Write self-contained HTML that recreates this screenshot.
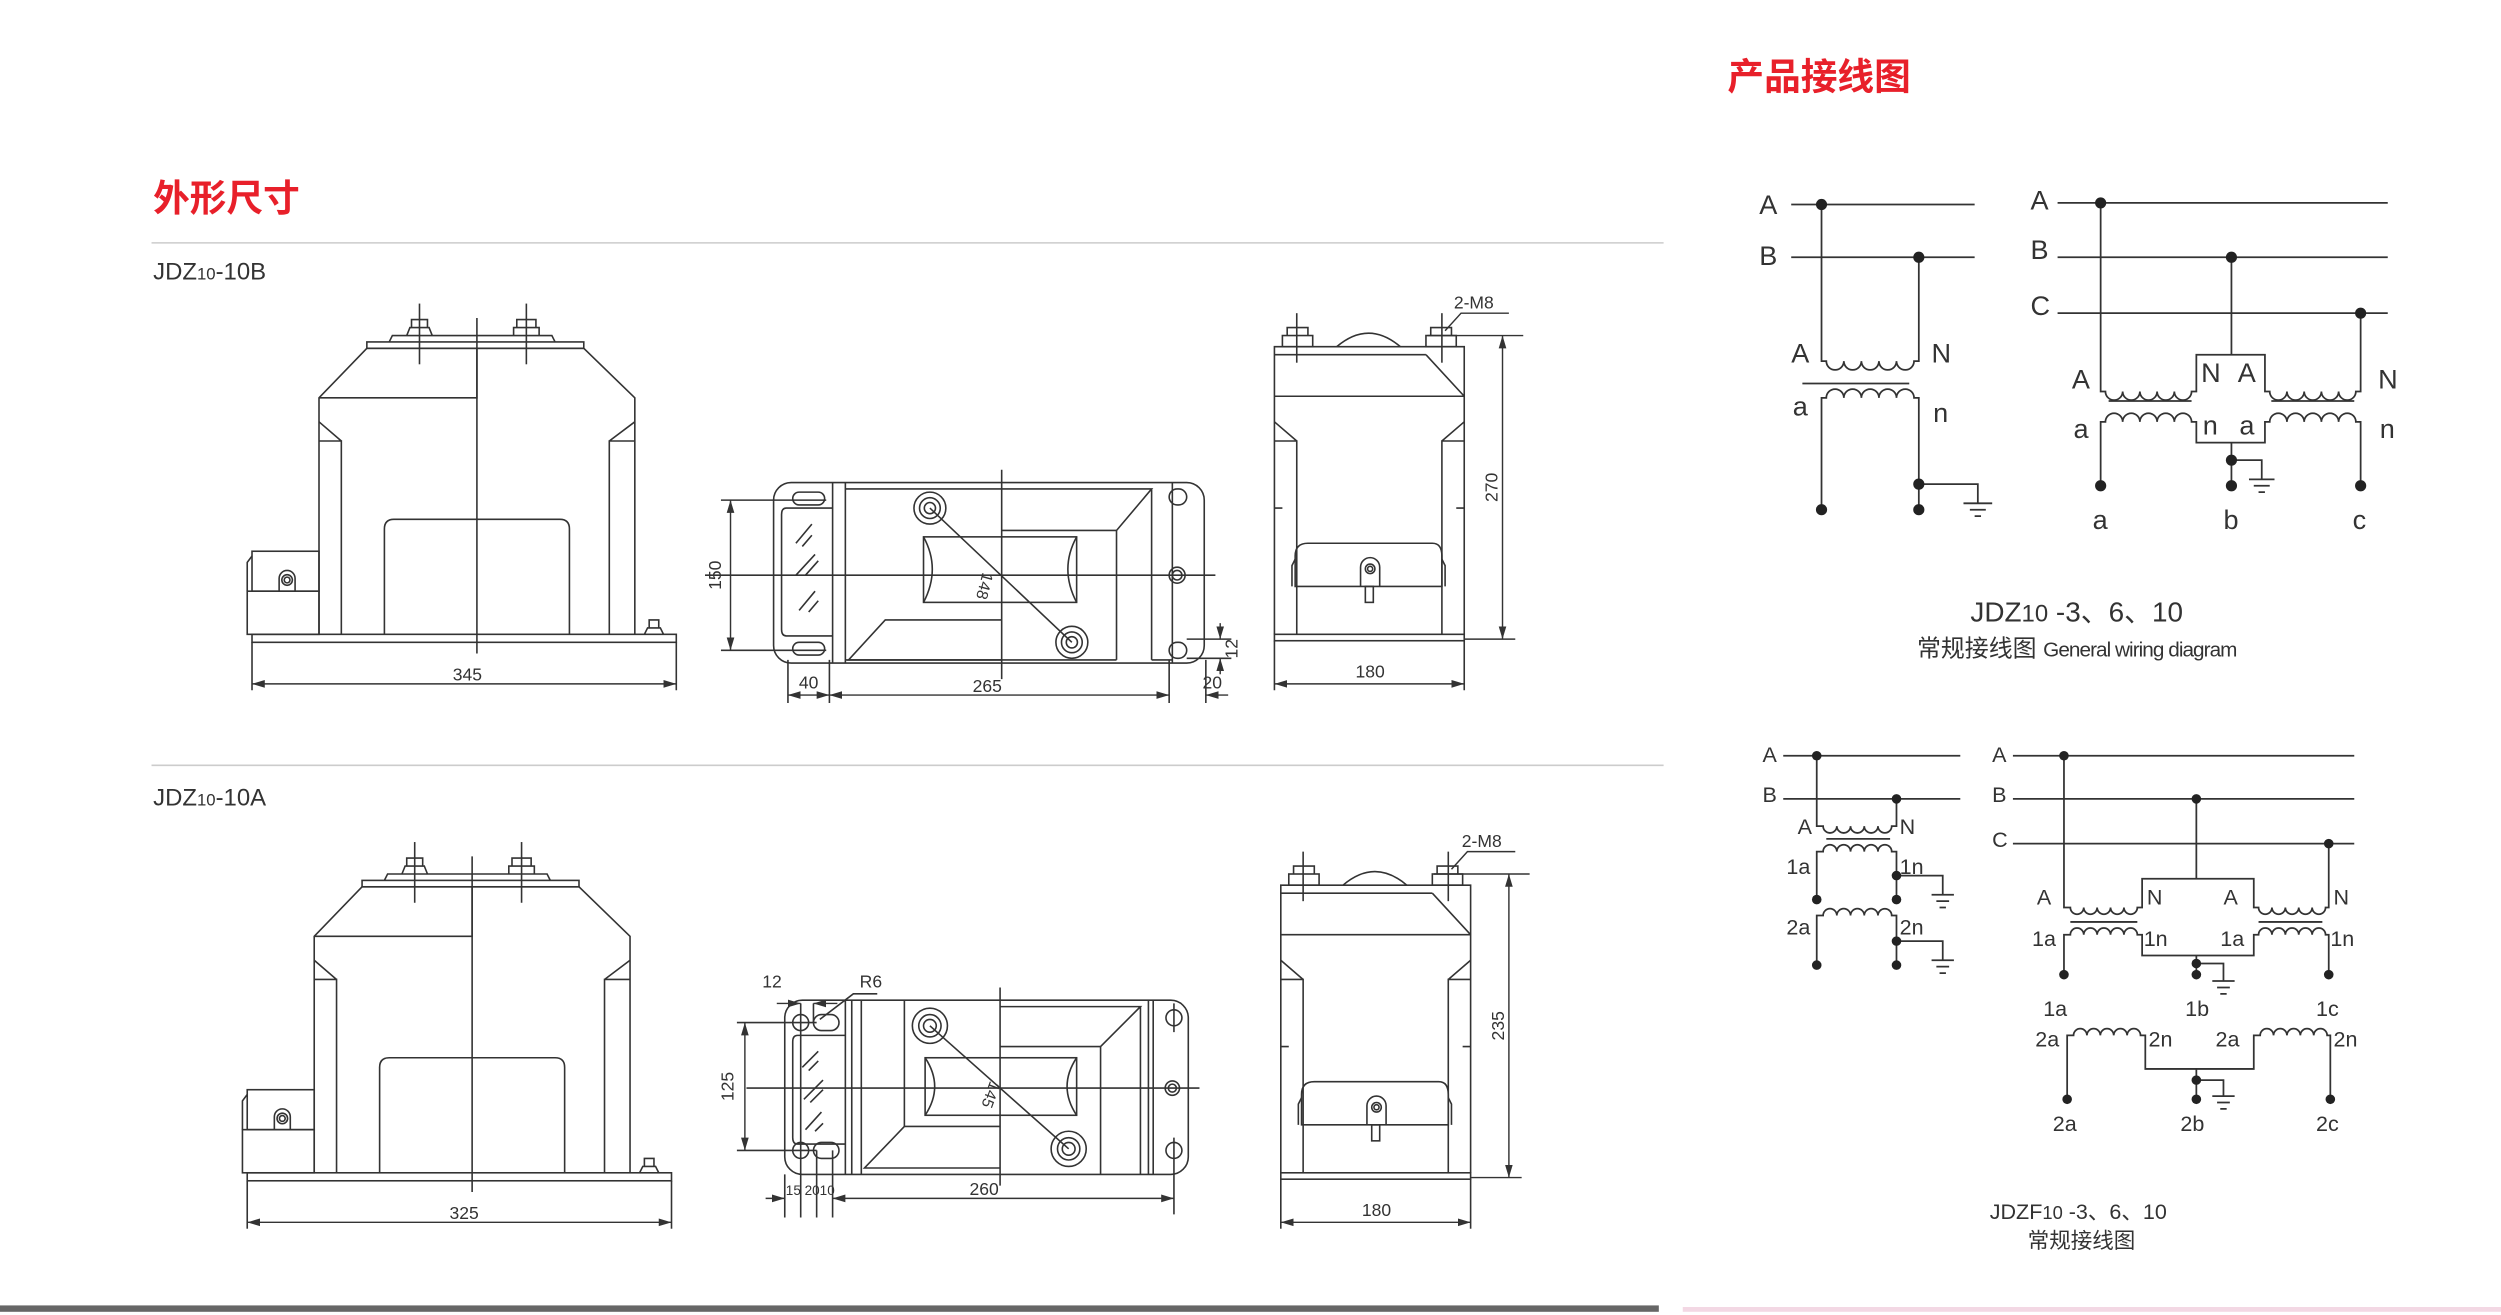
<!DOCTYPE html>
<html><head><meta charset="utf-8"><style>
html,body{margin:0;padding:0;background:#fff;}
svg{display:block;}
text{font-family:"Liberation Sans","Noto Sans CJK SC",sans-serif;fill:#333;}
</style></head><body>
<svg width="2501" height="1315" viewBox="0 0 1568 823" preserveAspectRatio="none" xmlns="http://www.w3.org/2000/svg">
<defs>
<marker id="ar" viewBox="0 0 10 6" refX="10" refY="3" markerWidth="8" markerHeight="5" orient="auto-start-reverse" markerUnits="userSpaceOnUse"><path d="M0,0 L10,3 L0,6 z" fill="#333"/></marker>
<g id="front" fill="none" stroke="#333" stroke-width="1">
<rect x="158" y="397" width="266" height="5"/>
<rect x="158" y="345" width="42" height="25"/>
<path d="M158,348 L155,352 L155,370"/>
<rect x="155" y="370" width="45" height="27"/>
<path d="M175,370 V362 A5,5 0 0 1 185,362 V370"/>
<circle cx="180" cy="363" r="3.3"/><circle cx="180" cy="363" r="1.8"/>
<path d="M200,397 V249 L230,218 H366 L398,249 V397"/>
<path d="M200,249 H299 V218"/>
<path d="M214,397 V276 H200 M200,264 L214,276"/>
<path d="M382,397 V276 H398 M398,264 L382,276"/>
<path d="M241,397 V331 Q241,325 247,325 H351 Q357,325 357,331 V397"/>
<rect x="230" y="214" width="136" height="4"/>
<path d="M244,214 L246,210 H346 L348,214"/>
<path d="M255,210 L257,205 H269 L271,210 M258,205 V200 H268 V205"/>
<path d="M322,210 V205 H338 V210 M324,205 V200 H336 V205"/>
<path d="M404,397 L406,393 H414 L416,397 M407,393 V388 H413 V393"/>
<line x1="263" y1="190" x2="263" y2="228"/><line x1="330" y1="190" x2="330" y2="228"/>
<line x1="299" y1="199" x2="299" y2="409"/>
<line x1="158" y1="402" x2="158" y2="432"/><line x1="424" y1="402" x2="424" y2="432"/>
</g>
<g id="side" fill="none" stroke="#333" stroke-width="1">
<rect x="799" y="397" width="119" height="4"/>
<path d="M799,397 V217 H918 V397"/>
<line x1="799" y1="222" x2="894" y2="222"/>
<path d="M894,222 L918,248 M799,248 H918"/>
<path d="M813,397 V276 H799 M799,264 L813,276"/>
<path d="M904,397 V276 H918 M918,264 L904,276"/>
<path d="M799,318 H804 M913,318 H918"/>
<path d="M838,217 Q858,200 878,217"/>
<rect x="804" y="210" width="19" height="7"/><path d="M807,210 V205 H820 V210"/>
<rect x="894" y="210" width="19" height="7"/><path d="M897,210 V205 H910 V210"/>
<line x1="813" y1="196" x2="813" y2="227"/><line x1="904" y1="196" x2="904" y2="227"/>
<path d="M812,367 V348 Q812,340 820,340 H898 Q904,340 904,348 V367 Z"/>
<path d="M812,350 L810,354 V367 M904,350 L906,354 V367"/>
<path d="M853,367 V355 A6,6 0 0 1 865,355 V367"/>
<circle cx="859" cy="356" r="3"/><circle cx="859" cy="356" r="1.6"/>
<rect x="856" y="367" width="5" height="10"/>
<line x1="799" y1="401" x2="799" y2="432"/><line x1="918" y1="401" x2="918" y2="432"/>
</g>
</defs>

<text x="96" y="132" font-size="23" font-weight="bold" style="fill:#e8202a">外形尺寸</text>
<text x="1083" y="56" font-size="23" font-weight="bold" style="fill:#e8202a">产品接线图</text>
<line x1="95" y1="152" x2="1043" y2="152" stroke="#ccc" stroke-width="1"/>
<line x1="95" y1="479" x2="1043" y2="479" stroke="#ccc" stroke-width="1"/>
<text x="96" y="175" font-size="15">JDZ<tspan font-size="10.5">10</tspan>-10B</text>
<text x="96" y="504" font-size="15">JDZ<tspan font-size="10.5">10</tspan>-10A</text>
<rect x="0" y="817" width="1040" height="4" fill="#666"/>
<rect x="1055" y="818" width="513" height="3" fill="#f3d8e4"/>

<use href="#front"/>
<line x1="158" y1="428" x2="424" y2="428" stroke="#333" stroke-width="0.9" marker-start="url(#ar)" marker-end="url(#ar)"/>
<text x="293" y="426" font-size="11" text-anchor="middle">345</text>
<use href="#front" transform="translate(-3,337)"/>
<line x1="155" y1="765" x2="421" y2="765" stroke="#333" stroke-width="0.9" marker-start="url(#ar)" marker-end="url(#ar)"/>
<text x="291" y="763" font-size="11" text-anchor="middle">325</text>

<use href="#side"/>
<line x1="942" y1="210" x2="942" y2="400" stroke="#333" stroke-width="0.9" marker-start="url(#ar)" marker-end="url(#ar)"/>
<g stroke="#333" stroke-width="0.9" fill="none"><path d="M895,210 H955 M918,400 H950 M906,207 L916,196 H946"/></g>
<line x1="799" y1="428" x2="918" y2="428" stroke="#333" stroke-width="0.9" marker-start="url(#ar)" marker-end="url(#ar)"/>
<text x="859" y="424" font-size="11" text-anchor="middle">180</text>
<text x="924" y="193" font-size="11" text-anchor="middle">2-M8</text>
<text transform="translate(939,305) rotate(-90)" font-size="11" text-anchor="middle">270</text>
<use href="#side" transform="translate(4,337)"/>
<line x1="946" y1="547" x2="946" y2="737" stroke="#333" stroke-width="0.9" marker-start="url(#ar)" marker-end="url(#ar)"/>
<g stroke="#333" stroke-width="0.9" fill="none"><path d="M899,547 H959 M922,737 H954 M910,544 L920,533 H950"/></g>
<line x1="803" y1="765" x2="922" y2="765" stroke="#333" stroke-width="0.9" marker-start="url(#ar)" marker-end="url(#ar)"/>
<text x="863" y="761" font-size="11" text-anchor="middle">180</text>
<text x="929" y="530" font-size="11" text-anchor="middle">2-M8</text>
<text transform="translate(943,642) rotate(-90)" font-size="11" text-anchor="middle">235</text>

<g fill="none" stroke="#333" stroke-width="1">
<rect x="485" y="302" width="270" height="113" rx="11"/>
<line x1="522" y1="302" x2="522" y2="415"/><line x1="530" y1="302" x2="530" y2="415"/>
<path d="M522,318 H493 Q490,318 490,322 V394 Q490,398 493,398 H522"/>
<rect x="497" y="308" width="20" height="8" rx="4"/><rect x="497" y="402" width="20" height="8" rx="4"/>
<path d="M499,340 L509,328 M503,342 L509,335 M499,360 L511,347 M505,360 L513,351 M501,382 L511,370 M507,383 L513,376"/>
<path d="M628,306 H722 L700,332 H628 M722,306 V413 M700,332 V413"/>
<path d="M628,413 H532 L555,388 H628"/>
<path d="M530,306 H628 M530,413 H700 M735,302 V415 M722,413 H735"/>
<rect x="579" y="336" width="96" height="41"/>
<path d="M579,336 Q590,356 579,377 M675,336 Q664,356 675,377"/>
<circle cx="583" cy="318" r="10"/><circle cx="583" cy="318" r="6.5"/><circle cx="583" cy="318" r="3.5"/>
<circle cx="672" cy="402" r="10"/><circle cx="672" cy="402" r="6.5"/><circle cx="672" cy="402" r="3.5"/>
<line x1="583" y1="318" x2="672" y2="402"/>
<circle cx="738" cy="360" r="5"/><circle cx="738" cy="360" r="3"/>
<rect x="733" y="306" width="11" height="10" rx="5"/><rect x="733" y="402" width="11" height="10" rx="5"/>
<line x1="442" y1="360" x2="762" y2="360"/><line x1="628" y1="294" x2="628" y2="425"/>
<path d="M452,313 H518 M452,407 H518 M494,413 V440 M520,413 V440 M733,413 V440 M756,413 V440 M744,400 H772 M744,412 H772"/>
</g>
<g stroke="#333" stroke-width="0.9">
<line x1="458" y1="313" x2="458" y2="407" marker-start="url(#ar)" marker-end="url(#ar)"/>
<line x1="494" y1="435" x2="520" y2="435" marker-start="url(#ar)" marker-end="url(#ar)"/>
<line x1="520" y1="435" x2="733" y2="435" marker-start="url(#ar)" marker-end="url(#ar)"/>
<line x1="756" y1="435" x2="770" y2="435" marker-start="url(#ar)"/>
<line x1="765" y1="390" x2="765" y2="400" marker-end="url(#ar)"/>
<line x1="765" y1="422" x2="765" y2="412" marker-end="url(#ar)"/>
</g>
<text transform="translate(452,360) rotate(-90)" font-size="11" text-anchor="middle">150</text>
<text x="507" y="431" font-size="11" text-anchor="middle">40</text>
<text x="619" y="433" font-size="11" text-anchor="middle">265</text>
<text x="760" y="431" font-size="11" text-anchor="middle">20</text>
<text transform="translate(776,406) rotate(-90)" font-size="11" text-anchor="middle">12</text>
<text transform="translate(614,366) rotate(105)" font-size="10" text-anchor="middle">148</text>

<g fill="none" stroke="#333" stroke-width="1">
<rect x="492" y="626" width="253" height="109" rx="11"/>
<line x1="530" y1="626" x2="530" y2="735"/><line x1="534" y1="626" x2="534" y2="735"/><line x1="540" y1="626" x2="540" y2="735"/>
<path d="M530,648 H500 Q497,648 497,652 V712 Q497,716 500,716 H530"/>
<circle cx="502" cy="640" r="5"/><circle cx="502" cy="720" r="5"/>
<rect x="510" y="635" width="16" height="10" rx="5"/><rect x="510" y="715" width="16" height="10" rx="5"/>
<path d="M503,668 L513,658 M507,670 L513,664 M504,688 L516,676 M508,690 L516,682 M505,707 L515,696 M511,708 L516,703"/>
<path d="M627,630 H715 L690,655 H627 M715,630 V735 M690,655 V735 M720,626 V735 M723,626 V735"/>
<path d="M627,731 H542 L567,705 H627"/>
<path d="M567,626 V705"/>
<rect x="580" y="662" width="95" height="36"/>
<path d="M580,662 Q592,680 580,698 M675,662 Q663,680 675,698"/>
<circle cx="583" cy="642" r="11"/><circle cx="583" cy="642" r="7"/><circle cx="583" cy="642" r="4"/>
<circle cx="670" cy="719" r="11"/><circle cx="670" cy="719" r="7"/><circle cx="670" cy="719" r="4"/>
<line x1="583" y1="642" x2="670" y2="719"/>
<circle cx="735" cy="681" r="4.5"/><circle cx="735" cy="681" r="2.5"/>
<circle cx="736" cy="637" r="5"/><circle cx="736" cy="720" r="5"/>
<path d="M736,628 V646 M736,712 V760"/>
<line x1="468" y1="681" x2="752" y2="681"/><line x1="627" y1="618" x2="627" y2="742"/>
<path d="M462,640 H512 M462,720 H512 M492,735 V762 M502,640 V762 M512,720 V762 M522,720 V762 M502,628 V640 M510,628 V640 M514,638 L535,622 H550"/>
</g>
<g stroke="#333" stroke-width="0.9">
<line x1="467" y1="640" x2="467" y2="720" marker-start="url(#ar)" marker-end="url(#ar)"/>
<line x1="522" y1="750" x2="736" y2="750" marker-start="url(#ar)" marker-end="url(#ar)"/>
<line x1="480" y1="750" x2="492" y2="750" marker-end="url(#ar)"/>
<line x1="487" y1="628" x2="502" y2="628" marker-end="url(#ar)"/>
<line x1="525" y1="628" x2="510" y2="628" marker-end="url(#ar)"/>
</g>
<text transform="translate(460,680) rotate(-90)" font-size="11" text-anchor="middle">125</text>
<text x="484" y="618" font-size="11" text-anchor="middle">12</text>
<text x="546" y="618" font-size="11" text-anchor="middle">R6</text>
<text x="508" y="748" font-size="8.5" text-anchor="middle">15 2010</text>
<text x="617" y="748" font-size="11" text-anchor="middle">260</text>
<text transform="translate(618,684) rotate(110)" font-size="10" text-anchor="middle">145</text>

<g fill="none" stroke="#333" stroke-width="1.1">
<path d="M1123,128 H1238 M1123,161 H1238"/>
<path d="M1142,128 V226 H1145 a5.5,5.5 0 0 0 11,0 a5.5,5.5 0 0 0 11,0 a5.5,5.5 0 0 0 11,0 a5.5,5.5 0 0 0 11,0 a5.5,5.5 0 0 0 11,0 H1203 V161"/>
<path d="M1130,240 H1197"/>
<path d="M1142,319 V249 H1145 a5.5,5.5 0 0 1 11,0 a5.5,5.5 0 0 1 11,0 a5.5,5.5 0 0 1 11,0 a5.5,5.5 0 0 1 11,0 a5.5,5.5 0 0 1 11,0 H1203 V319"/>
<path d="M1203,303 H1240 V315 M1231,315 H1249 M1235,319 H1245 M1238,323 H1242"/>
</g>
<g fill="#222"><circle cx="1142" cy="128" r="3.5"/><circle cx="1203" cy="161" r="3.5"/><circle cx="1142" cy="319" r="3.5"/><circle cx="1203" cy="303" r="3.5"/><circle cx="1203" cy="319" r="3.5"/></g>
<g font-size="17"><text x="1103" y="134">A</text><text x="1103" y="166">B</text><text x="1123" y="227">A</text><text x="1211" y="227">N</text><text x="1124" y="260">a</text><text x="1212" y="264">n</text></g>

<g fill="none" stroke="#333" stroke-width="1.1">
<path d="M1290,127 H1497 M1290,161 H1497 M1290,196 H1497"/>
<path d="M1317,127 V245 H1320 a5.4,5.4 0 0 0 10.8,0 a5.4,5.4 0 0 0 10.8,0 a5.4,5.4 0 0 0 10.8,0 a5.4,5.4 0 0 0 10.8,0 a5.4,5.4 0 0 0 10.8,0 H1377 V222 H1420 V245 H1423 a5.4,5.4 0 0 0 10.8,0 a5.4,5.4 0 0 0 10.8,0 a5.4,5.4 0 0 0 10.8,0 a5.4,5.4 0 0 0 10.8,0 a5.4,5.4 0 0 0 10.8,0 H1480 V196"/>
<path d="M1399,161 V222 M1322,251 H1374 M1424,251 H1476"/>
<path d="M1317,304 V264 H1320 a5.4,5.4 0 0 1 10.8,0 a5.4,5.4 0 0 1 10.8,0 a5.4,5.4 0 0 1 10.8,0 a5.4,5.4 0 0 1 10.8,0 a5.4,5.4 0 0 1 10.8,0 H1377 V277 H1420 V264 H1423 a5.4,5.4 0 0 1 10.8,0 a5.4,5.4 0 0 1 10.8,0 a5.4,5.4 0 0 1 10.8,0 a5.4,5.4 0 0 1 10.8,0 a5.4,5.4 0 0 1 10.8,0 H1480 V304"/>
<path d="M1399,277 V304 M1399,288 H1418 V300 M1410,300 H1426 M1413,304 H1423 M1416,308 H1420"/>
</g>
<g fill="#222"><circle cx="1317" cy="127" r="3.5"/><circle cx="1399" cy="161" r="3.5"/><circle cx="1480" cy="196" r="3.5"/><circle cx="1317" cy="304" r="3.5"/><circle cx="1399" cy="288" r="3.5"/><circle cx="1399" cy="304" r="3.5"/><circle cx="1480" cy="304" r="3.5"/></g>
<g font-size="17"><text x="1273" y="131">A</text><text x="1273" y="162">B</text><text x="1273" y="197">C</text><text x="1299" y="243">A</text><text x="1380" y="239">N</text><text x="1403" y="239">A</text><text x="1491" y="243">N</text><text x="1300" y="274">a</text><text x="1381" y="272">n</text><text x="1404" y="272">a</text><text x="1492" y="274">n</text><text x="1312" y="331">a</text><text x="1394" y="331">b</text><text x="1475" y="331">c</text></g>
<text x="1302" y="389" font-size="17.5" text-anchor="middle">JDZ<tspan font-size="15">10</tspan> -3、6、10</text>
<text x="1302" y="411" font-size="15" text-anchor="middle">常规接线图 <tspan font-size="13" letter-spacing="-0.6">General wiring diagram</tspan></text>

<g fill="none" stroke="#333" stroke-width="1.1">
<path d="M1118,473 H1229 M1118,500 H1229"/>
<path d="M1139,473 V517 H1143 a4.3,4.3 0 0 0 8.6,0 a4.3,4.3 0 0 0 8.6,0 a4.3,4.3 0 0 0 8.6,0 a4.3,4.3 0 0 0 8.6,0 a4.3,4.3 0 0 0 8.6,0 H1189 V500"/>
<path d="M1145,525 H1185"/>
<path d="M1139,563 V533 H1143 a4.3,4.3 0 0 1 8.6,0 a4.3,4.3 0 0 1 8.6,0 a4.3,4.3 0 0 1 8.6,0 a4.3,4.3 0 0 1 8.6,0 a4.3,4.3 0 0 1 8.6,0 H1189 V563"/>
<path d="M1189,548 H1218 V560 M1211,560 H1225 M1214,564 H1222 M1216,568 H1220"/>
<path d="M1139,604 V573 H1143 a4.3,4.3 0 0 1 8.6,0 a4.3,4.3 0 0 1 8.6,0 a4.3,4.3 0 0 1 8.6,0 a4.3,4.3 0 0 1 8.6,0 a4.3,4.3 0 0 1 8.6,0 H1189 V604"/>
<path d="M1189,589 H1218 V601 M1211,601 H1225 M1214,605 H1222 M1216,609 H1220"/>
</g>
<g fill="#222"><circle cx="1139" cy="473" r="3"/><circle cx="1189" cy="500" r="3"/><circle cx="1139" cy="563" r="3"/><circle cx="1189" cy="548" r="3"/><circle cx="1189" cy="563" r="3"/><circle cx="1139" cy="604" r="3"/><circle cx="1189" cy="589" r="3"/><circle cx="1189" cy="604" r="3"/></g>
<g font-size="13.5"><text x="1105" y="477">A</text><text x="1105" y="502">B</text><text x="1127" y="522">A</text><text x="1191" y="522">N</text><text x="1120" y="547">1a</text><text x="1191" y="547">1n</text><text x="1120" y="585">2a</text><text x="1191" y="585">2n</text></g>

<g fill="none" stroke="#333" stroke-width="1.1">
<path d="M1262,473 H1476 M1262,500 H1476 M1262,528 H1476"/>
<path d="M1294,473 V568 H1298 a4.2,4.2 0 0 0 8.4,0 a4.2,4.2 0 0 0 8.4,0 a4.2,4.2 0 0 0 8.4,0 a4.2,4.2 0 0 0 8.4,0 a4.2,4.2 0 0 0 8.4,0 H1343 V550 H1413 V568 H1416 a4.2,4.2 0 0 0 8.4,0 a4.2,4.2 0 0 0 8.4,0 a4.2,4.2 0 0 0 8.4,0 a4.2,4.2 0 0 0 8.4,0 a4.2,4.2 0 0 0 8.4,0 H1460 V528"/>
<path d="M1377,500 V550 M1298,577 H1340 M1416,577 H1456"/>
<path d="M1294,610 V585 H1298 a4.2,4.2 0 0 1 8.4,0 a4.2,4.2 0 0 1 8.4,0 a4.2,4.2 0 0 1 8.4,0 a4.2,4.2 0 0 1 8.4,0 a4.2,4.2 0 0 1 8.4,0 H1343 V598 H1413 V585 H1416 a4.2,4.2 0 0 1 8.4,0 a4.2,4.2 0 0 1 8.4,0 a4.2,4.2 0 0 1 8.4,0 a4.2,4.2 0 0 1 8.4,0 a4.2,4.2 0 0 1 8.4,0 H1460 V610"/>
<path d="M1377,598 V610 M1377,603 H1394 V614 M1387,614 H1401 M1390,618 H1398 M1392,622 H1396"/>
<path d="M1296,688 V648 H1300 a4.2,4.2 0 0 1 8.4,0 a4.2,4.2 0 0 1 8.4,0 a4.2,4.2 0 0 1 8.4,0 a4.2,4.2 0 0 1 8.4,0 a4.2,4.2 0 0 1 8.4,0 H1345 V669 H1413 V648 H1417 a4.2,4.2 0 0 1 8.4,0 a4.2,4.2 0 0 1 8.4,0 a4.2,4.2 0 0 1 8.4,0 a4.2,4.2 0 0 1 8.4,0 a4.2,4.2 0 0 1 8.4,0 H1461 V688"/>
<path d="M1377,669 V688 M1377,676 H1394 V686 M1387,686 H1401 M1390,690 H1398 M1392,694 H1396"/>
</g>
<g fill="#222"><circle cx="1294" cy="473" r="3"/><circle cx="1377" cy="500" r="3"/><circle cx="1460" cy="528" r="3"/><circle cx="1294" cy="610" r="3"/><circle cx="1377" cy="603" r="3"/><circle cx="1377" cy="610" r="3"/><circle cx="1460" cy="610" r="3"/><circle cx="1296" cy="688" r="3"/><circle cx="1377" cy="676" r="3"/><circle cx="1377" cy="688" r="3"/><circle cx="1461" cy="688" r="3"/></g>
<g font-size="13.5"><text x="1249" y="477">A</text><text x="1249" y="502">B</text><text x="1249" y="530">C</text><text x="1277" y="566">A</text><text x="1346" y="566">N</text><text x="1394" y="566">A</text><text x="1463" y="566">N</text>
<text x="1274" y="592">1a</text><text x="1344" y="592">1n</text><text x="1392" y="592">1a</text><text x="1461" y="592">1n</text>
<text x="1281" y="636">1a</text><text x="1370" y="636">1b</text><text x="1452" y="636">1c</text>
<text x="1276" y="655">2a</text><text x="1347" y="655">2n</text><text x="1389" y="655">2a</text><text x="1463" y="655">2n</text>
<text x="1287" y="708">2a</text><text x="1367" y="708">2b</text><text x="1452" y="708">2c</text></g>
<text x="1303" y="763" font-size="13.5" text-anchor="middle">JDZF<tspan font-size="11.5">10</tspan> -3、6、10</text>
<text x="1305" y="781" font-size="13.5" text-anchor="middle">常规接线图</text>
</svg>
</body></html>
